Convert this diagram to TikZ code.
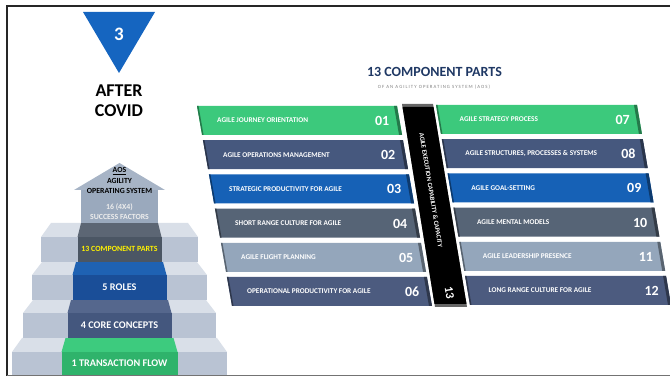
\documentclass[tikz,border=0pt]{standalone}
\usepackage{fontspec}
\setmainfont{Carlito}
\usetikzlibrary{calc}

\definecolor{navy}{HTML}{1F3864}
\definecolor{triblue}{HTML}{1565C0}
\definecolor{rgreen}{HTML}{3CC97C}
\definecolor{rslate}{HTML}{46587E}
\definecolor{rblue}{HTML}{1661B6}
\definecolor{rgray}{HTML}{566476}
\definecolor{rlight}{HTML}{94A6BB}
\definecolor{rdeep}{HTML}{4C5B7F}
\definecolor{sidefront}{HTML}{B9C3D3}
\definecolor{sidetop}{HTML}{D9DFE8}
\definecolor{sonefront}{HTML}{2FB36B}
\definecolor{sonetop}{HTML}{3DCB7E}
\definecolor{stwofront}{HTML}{44577E}
\definecolor{stwotop}{HTML}{55678D}
\definecolor{sthreefront}{HTML}{1A4E98}
\definecolor{sthreetop}{HTML}{1F62B3}
\definecolor{sfourfront}{HTML}{4B5664}
\definecolor{sfourtop}{HTML}{5C6674}
\definecolor{aosbody}{HTML}{9AA9BD}
\definecolor{aoshead}{HTML}{A7B4C6}

\begin{document}
\begin{tikzpicture}[x=1pt, y=-1pt, inner sep=0pt,
    rowlabel/.style={anchor=west, text=white, font=\bfseries\fontsize{7.3}{8}\selectfont},
    rownum/.style={anchor=east, text=white, font=\bfseries\fontsize{14}{14}\selectfont},
    steplabel/.style={text=white, font=\bfseries\fontsize{10.2}{11}\selectfont},
    aoslabel/.style={font=\bfseries\fontsize{7.8}{8}\selectfont},
    bandlabel/.style={text=white, rotate=-80.6}]
\useasboundingbox (0,0) rectangle (670,379);
\def\cx{119.5}

% frame
\draw[line width=2pt, black!85] (670,6) -- (7,6) -- (7,376);
\draw[line width=1pt, black!55] (7,376) -- (670,376);

% number marker
\fill[triblue] (83,12) -- (155,12) -- (119,73) -- cycle;
\node[text=white, font=\bfseries\fontsize{19}{19}\selectfont] (num3) at (119,34) {3};
\node[font=\bfseries\fontsize{18}{18}\selectfont] (after) at (119,91) {AFTER};
\node[font=\bfseries\fontsize{18}{18}\selectfont] (covid) at (119,111) {COVID};

% stairs
\foreach \yt/\yf/\yb/\w/\c/\ct/\cf/\ctp in {
    338/352/375/107.5/58/54/sonefront/sonetop,
    300/313/338/96.5/52/48.5/stwofront/stwotop,
    262/275/300/87.5/47/43.5/sthreefront/sthreetop,
    223/237/262/78.5/42/38.5/sfourfront/sfourtop}{
  \fill[sidefront] (\cx-\w,\yf) rectangle (\cx+\w,\yb);
  \fill[sidetop] (\cx-\w,\yf) -- (\cx-\w+10,\yt) -- (\cx+\w-10,\yt) -- (\cx+\w,\yf) -- cycle;
  \fill[\cf] (\cx-\c,\yf) rectangle (\cx+\c,\yb);
  \fill[\ctp] (\cx-\c,\yf) -- (\cx-\ct,\yt) -- (\cx+\ct,\yt) -- (\cx+\c,\yf) -- cycle;
}
\fill[aosbody] (81,190) rectangle (158,223);
\fill[aoshead] (74,190) -- (119.5,163) -- (165,190) -- cycle;

\node[steplabel] (flow) at (\cx,363) {1 TRANSACTION FLOW};
\node[steplabel] (core) at (\cx,325) {4 CORE CONCEPTS};
\node[steplabel] (roles) at (\cx,287) {5 ROLES};
\node[steplabel, text=yellow, font=\bfseries\fontsize{7.9}{8}\selectfont] (parts) at (\cx,249) {13 COMPONENT PARTS};
\node[aoslabel] (aos) at (\cx,171) {\underline{AOS}};
\node[aoslabel] (agility) at (\cx,181) {AGILITY};
\node[aoslabel] (opsys) at (\cx,191) {OPERATING SYSTEM};
\node[aoslabel, text=white!93!black] (sixteen) at (\cx,207) {16 (4X4)};
\node[aoslabel, text=white!93!black] (factors) at (\cx,217) {SUCCESS FACTORS};

% heading
\node[text=navy, font=\bfseries\fontsize{14}{14}\selectfont] (ttl) at (434.5,72) {13 COMPONENT PARTS};
\node[text=black!50, font=\fontsize{4.8}{5}\selectfont\addfontfeatures{LetterSpace=22}] (subttl) at (434,87) {OF AN AGILITY OPERATING SYSTEM (AOS)};

% left column
\foreach \lbl/\num/\col [count=\k from 0] in {
    AGILE JOURNEY ORIENTATION/01/rgreen,
    AGILE OPERATIONS MANAGEMENT/02/rslate,
    STRATEGIC PRODUCTIVITY FOR AGILE/03/rblue,
    SHORT RANGE CULTURE FOR AGILE/04/rgray,
    AGILE FLIGHT PLANNING/05/rlight,
    OPERATIONAL PRODUCTIVITY FOR AGILE/06/rdeep}{
  \pgfmathsetmacro\yt{106+34.2*\k}
  \pgfmathsetmacro\yb{\yt+29}
  \pgfmathsetmacro\xa{197+0.175*(\yt-106)}
  \pgfmathsetmacro\xb{197+0.175*(\yb-106)}
  \fill[\col] (\xa,\yt) -- (\xa+200,\yt) -- (\xb+200,\yb) -- (\xb,\yb) -- cycle;
  \fill[\col!60!black] (\xa+197,\yt) -- (\xa+200,\yt) -- (\xb+200,\yb) -- (\xb+197,\yb) -- cycle;
  \fill[\col!60!black] (\xa,\yt) -- (\xa+1.5,\yt) -- (\xb+1.5,\yb) -- (\xb,\yb) -- cycle;
  \node[rowlabel] (lbl\num) at (\xa/2+\xb/2+17.5,\yt+14.5) {\lbl};
  \node[rownum] (num\num) at (\xa/2+\xb/2+190,\yt+15) {\num};
}

% right column
\foreach \lbl/\num/\col [count=\k from 0] in {
    AGILE STRATEGY PROCESS/07/rgreen,
    {AGILE STRUCTURES, PROCESSES \& SYSTEMS}/08/rslate,
    AGILE GOAL-SETTING/09/rblue,
    AGILE MENTAL MODELS/10/rgray,
    AGILE LEADERSHIP PRESENCE/11/rlight,
    LONG RANGE CULTURE FOR AGILE/12/rdeep}{
  \pgfmathsetmacro\yt{105+34.2*\k}
  \pgfmathsetmacro\yb{\yt+29}
  \pgfmathsetmacro\xa{436+0.17*(\yt-105)}
  \pgfmathsetmacro\xb{436+0.17*(\yb-105)}
  \fill[\col] (\xa,\yt) -- (\xa+201,\yt) -- (\xb+201,\yb) -- (\xb,\yb) -- cycle;
  \fill[\col!60!black] (\xa+198,\yt) -- (\xa+201,\yt) -- (\xb+201,\yb) -- (\xb+198,\yb) -- cycle;
  \fill[\col!60!black] (\xa,\yt) -- (\xa+1.5,\yt) -- (\xb+1.5,\yb) -- (\xb,\yb) -- cycle;
  \node[rowlabel] (lbl\num) at (\xa/2+\xb/2+21,\yt+14.5) {\lbl};
  \node[rownum] (num\num) at (\xa/2+\xb/2+191.5,\yt+15) {\num};
}

% execution band
\fill[black!60] (402,104) -- (433,104) -- (467,307) -- (435,307) -- cycle;
\fill[black] (402.5,107) -- (433.5,107) -- (466.5,304) -- (434.5,304) -- cycle;
\node[bandlabel, font=\bfseries\fontsize{6.6}{7}\selectfont] (exec) at (431,190) {AGILE EXECUTION CAPABILITY \& CAPACITY};
\node[bandlabel, font=\bfseries\fontsize{12}{12}\selectfont] (band13) at (449.5,293) {13};
\end{tikzpicture}
\end{document}
